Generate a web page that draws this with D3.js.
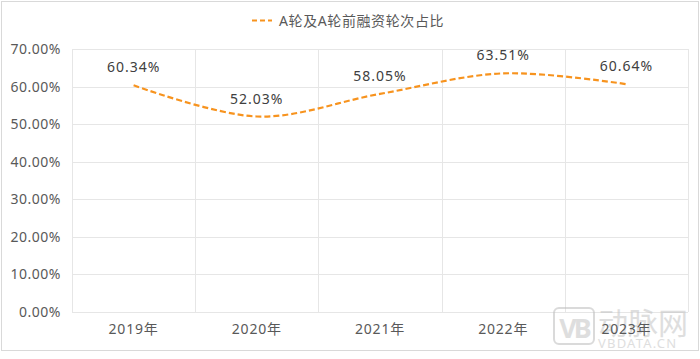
<!DOCTYPE html>
<html>
<head>
<meta charset="utf-8">
<script src="https://cdn.jsdelivr.net/npm/d3@7"></script>
<style>
  body { margin: 0; background: #fff; }
  text { font-family: "Noto Sans", "Noto Sans CJK SC", sans-serif; }
</style>
</head>
<body>
<div id="chart"></div>
<script>
// data
const years = ['2019年', '2020年', '2021年', '2022年', '2023年'];
const shares = [60.34, 52.03, 58.05, 63.51, 60.64];
const yTicks = [0, 10, 20, 30, 40, 50, 60, 70];
const seriesName = 'A轮及A轮前融资轮次占比';

const W = 700, H = 359;
const margin = {left: 72, right: 12, top: 49, bottom: 47};

let svg = d3.select('#chart').append('svg')
  .attr('width', W)
  .attr('height', H);

//outer frame
svg.append('rect')
  .attr('x', 1.5).attr('y', 1.5)
  .attr('width', W - 3).attr('height', 349)
  .attr('fill', '#fff')
  .attr('stroke', '#d9d9d9');

let x = d3.scaleBand().domain(years).range([margin.left, W - margin.right]);
let y = d3.scaleLinear().domain([0, 70]).range([H - margin.bottom, margin.top]);

//horizontal grid
svg.append('g').selectAll('line').data(yTicks).join('line')
  .attr('x1', margin.left).attr('x2', W - margin.right)
  .attr('y1', d => Math.round(y(d)) + 0.5).attr('y2', d => Math.round(y(d)) + 0.5)
  .attr('stroke', '#e6e6e6');

//vertical grid at band edges
let edges = years.map(d => x(d)).concat([x(years[years.length - 1]) + x.bandwidth()]);
svg.append('g').selectAll('line').data(edges).join('line')
  .attr('x1', d => Math.round(d) + 0.5).attr('x2', d => Math.round(d) + 0.5)
  .attr('y1', y(70)).attr('y2', y(0))
  .attr('stroke', '#e6e6e6');

//watermark (drawn under the labels)
let wm = svg.append('g').attr('opacity', 0.55);
wm.append('rect')
  .attr('x', 554).attr('y', 308).attr('width', 40).attr('height', 36).attr('rx', 5)
  .attr('fill', 'none').attr('stroke', '#bdbdbd').attr('stroke-width', 2);
wm.append('text')
  .attr('x', 574).attr('y', 338)
  .attr('text-anchor', 'middle')
  .attr('font-size', '27px')
  .attr('font-weight', 'bold')
  .attr('letter-spacing', '-3px')
  .attr('fill', '#c4c4c4')
  .text('VB');
wm.append('text')
  .attr('x', 598).attr('y', 334)
  .attr('font-size', '30px')
  .attr('fill', '#c4c4c4')
  .text('动脉网');
wm.append('text')
  .attr('x', 598).attr('y', 348)
  .attr('font-size', '13px')
  .attr('letter-spacing', '1.2px')
  .attr('fill', '#c4c4c4')
  .text('VBDATA.CN');

//y labels
svg.append('g').selectAll('text').data(yTicks).join('text')
  .attr('x', 61).attr('y', d => y(d) + 5)
  .attr('text-anchor', 'end')
  .attr('font-size', '14px')
  .attr('letter-spacing', '0.5px')
  .attr('fill', '#595959')
  .text(d => d.toFixed(2) + '%');

//x labels
svg.append('g').selectAll('text').data(years).join('text')
  .attr('x', d => x(d) + x.bandwidth() / 2).attr('y', 334)
  .attr('text-anchor', 'middle')
  .attr('font-size', '14px')
  .attr('letter-spacing', '0.8px')
  .attr('fill', '#595959')
  .text(d => d);

//line
let line = d3.line()
  .x((d, i) => x(years[i]) + x.bandwidth() / 2)
  .y(d => y(d))
  .curve(d3.curveCardinal.tension(0));
svg.append('path')
  .datum(shares)
  .attr('d', line)
  .attr('fill', 'none')
  .attr('stroke', '#f7931e')
  .attr('stroke-width', 2.2)
  .attr('stroke-dasharray', '6,3');

//value labels
svg.append('g').selectAll('text').data(shares).join('text')
  .attr('x', (d, i) => x(years[i]) + x.bandwidth() / 2)
  .attr('y', d => y(d) - 13)
  .attr('text-anchor', 'middle')
  .attr('font-size', '14px')
  .attr('letter-spacing', '1px')
  .attr('fill', '#404040')
  .text(d => d.toFixed(2) + '%');

//legend
svg.append('line')
  .attr('x1', 252).attr('x2', 272)
  .attr('y1', 20.5).attr('y2', 20.5)
  .attr('stroke', '#f7931e')
  .attr('stroke-width', 2.2)
  .attr('stroke-dasharray', '5,3');
svg.append('text')
  .attr('x', 279).attr('y', 25.5)
  .attr('font-size', '14px')
  .attr('letter-spacing', '0.6px')
  .attr('fill', '#595959')
  .text(seriesName);
</script>
</body>
</html>
